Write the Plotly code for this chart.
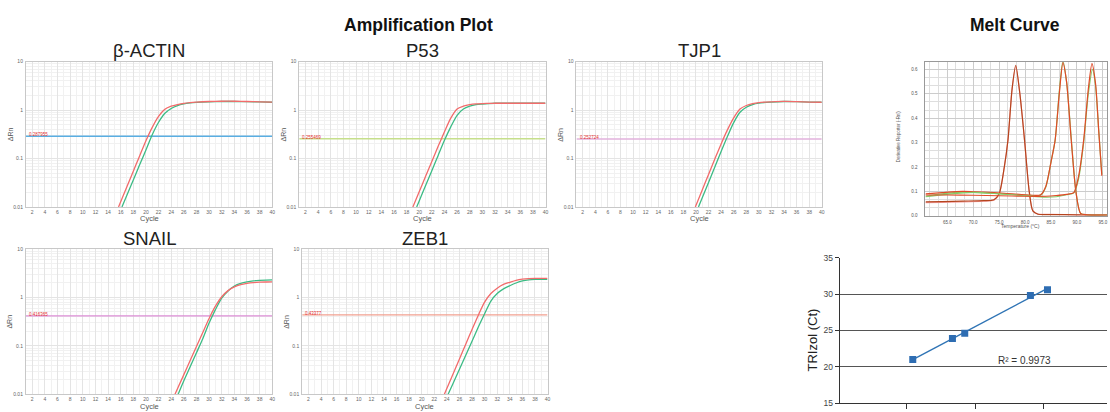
import plotly.graph_objects as go
import numpy as np

# ================= DATA =================
genes = ["β-ACTIN", "P53", "TJP1", "SNAIL", "ZEB1"]
threshold_values = [0.287955, 0.255469, 0.252724, 0.416365, 0.43377]
threshold_labels = ["0.287955", "0.255469", "0.252724", "0.416365", "0.43377"]

cycle_ticks = list(range(2, 41, 2))
drn_ticks = [0.01, 0.1, 1, 10]
drn_tick_labels = ["0.01", "0.1", "1", "10"]

# beta-actin
actin_red_cycle = [15.66, 17, 18, 19, 20, 21, 22, 23, 24, 25, 26, 27, 28, 30, 32, 34, 36, 38, 40]
actin_red_drn = [0.01, 0.0264, 0.0546, 0.113, 0.233, 0.44, 0.74, 1.04, 1.2, 1.3, 1.38, 1.43, 1.46, 1.5, 1.52, 1.52, 1.5, 1.48, 1.46]
actin_green_cycle = [16.2, 17, 18, 19, 20, 21, 22, 23, 24, 25, 26, 27, 28, 30, 32, 34, 36, 38, 40]
actin_green_drn = [0.01, 0.0177, 0.036, 0.074, 0.15, 0.31, 0.56, 0.86, 1.08, 1.24, 1.34, 1.4, 1.44, 1.48, 1.5, 1.5, 1.49, 1.47, 1.45]
# P53
p53_red_cycle = [19.0, 20, 21, 22, 23, 24, 25, 26, 27, 28, 29, 30, 31, 32, 34, 36, 38, 40]
p53_red_drn = [0.01, 0.0206, 0.0424, 0.087, 0.179, 0.355, 0.68, 1.05, 1.2, 1.29, 1.34, 1.36, 1.37, 1.38, 1.38, 1.38, 1.38, 1.38]
p53_green_cycle = [19.6, 20, 21, 22, 23, 24, 25, 26, 27, 28, 29, 30, 31, 32, 34, 36, 38, 40]
p53_green_drn = [0.01, 0.0133, 0.0274, 0.056, 0.116, 0.238, 0.45, 0.78, 1.05, 1.2, 1.29, 1.33, 1.36, 1.38, 1.38, 1.38, 1.38, 1.38]
# TJP1
tjp1_red_cycle = [19.9, 21, 22, 23, 24, 25, 26, 27, 28, 29, 30, 32, 34, 36, 38, 40]
tjp1_red_drn = [0.01, 0.0224, 0.047, 0.0975, 0.2, 0.39, 0.69, 1.05, 1.24, 1.36, 1.43, 1.48, 1.51, 1.49, 1.46, 1.45]
tjp1_green_cycle = [20.4, 21, 22, 23, 24, 25, 26, 27, 28, 29, 30, 32, 34, 36, 38, 40]
tjp1_green_drn = [0.01, 0.0155, 0.032, 0.067, 0.14, 0.285, 0.55, 0.9, 1.14, 1.3, 1.39, 1.46, 1.5, 1.49, 1.46, 1.45]
# SNAIL
snail_red_cycle = [24.6, 26, 27, 28, 29, 30, 31, 32, 33, 34, 35, 36, 37, 38, 39, 40]
snail_red_drn = [0.01, 0.0255, 0.0497, 0.097, 0.189, 0.368, 0.66, 1.03, 1.38, 1.65, 1.84, 1.95, 2.02, 2.06, 2.08, 2.09]
snail_green_cycle = [25.1, 26, 27, 28, 29, 30, 31, 32, 33, 34, 35, 36, 37, 38, 39, 40]
snail_green_drn = [0.01, 0.019, 0.037, 0.072, 0.14, 0.295, 0.56, 0.97, 1.36, 1.72, 1.95, 2.1, 2.2, 2.25, 2.28, 2.29]
# ZEB1
zeb1_red_cycle = [23.6, 25, 26, 27, 28, 29, 30, 31, 32, 33, 34, 35, 36, 37, 38, 40]
zeb1_red_drn = [0.01, 0.0267, 0.0537, 0.108, 0.218, 0.43, 0.8, 1.2, 1.55, 1.85, 2.05, 2.25, 2.38, 2.45, 2.47, 2.47]
zeb1_green_cycle = [24.2, 25, 26, 27, 28, 29, 30, 31, 32, 33, 34, 35, 36, 37, 38, 40]
zeb1_green_drn = [0.01, 0.017, 0.033, 0.064, 0.125, 0.244, 0.46, 0.84, 1.2, 1.5, 1.74, 1.98, 2.18, 2.3, 2.35, 2.36]

# Melt curve (temperature °C, derivative reporter)
melt_a_temp = [60.8, 64, 68, 72, 74, 75, 76, 76.7, 77.5, 78.2, 79, 79.9, 80.8, 81.5, 82.5, 85, 90, 95.8]
melt_a_val = [0.057, 0.058, 0.06, 0.062, 0.066, 0.09, 0.2, 0.31, 0.52, 0.617, 0.5, 0.31, 0.1, 0.02, 0.006, 0.005, 0.004, 0.003]
melt_b_temp = [60.8, 64, 68, 72, 74, 75, 76, 76.7, 77.5, 78.2, 79, 79.9, 80.8, 81.5, 82.5, 85, 90, 95.8]
melt_b_val = [0.054, 0.055, 0.057, 0.06, 0.064, 0.088, 0.2, 0.31, 0.52, 0.612, 0.5, 0.31, 0.1, 0.02, 0.007, 0.006, 0.004, 0.003]
melt_c_temp = [60.8, 64, 68, 72, 76, 80, 83, 84, 85, 85.8, 86.6, 87.3, 88, 88.9, 89.8, 90.7, 92, 95.8]
melt_c_val = [0.09, 0.095, 0.1, 0.097, 0.092, 0.086, 0.086, 0.12, 0.22, 0.31, 0.5, 0.628, 0.55, 0.31, 0.1, 0.01, 0.004, 0.003]
melt_d_temp = [60.8, 64, 68, 72, 76, 80, 83, 84, 85, 85.8, 86.6, 87.3, 88, 88.9, 89.8, 90.7, 92, 95.8]
melt_d_val = [0.08, 0.09, 0.097, 0.094, 0.09, 0.085, 0.084, 0.118, 0.22, 0.31, 0.51, 0.635, 0.55, 0.32, 0.1, 0.01, 0.004, 0.003]
melt_e_temp = [60.8, 65, 70, 75, 80, 84, 86, 88, 89.4, 90.3, 91.3, 92.2, 92.9, 93.6, 94.2, 94.8]
melt_e_val = [0.085, 0.085, 0.084, 0.082, 0.08, 0.08, 0.083, 0.088, 0.095, 0.16, 0.31, 0.52, 0.624, 0.54, 0.35, 0.164]
melt_f_temp = [60.8, 65, 70, 75, 80, 84, 86, 88, 89.4, 90.3, 91.3, 92.2, 93.0, 93.6, 94.2, 94.8]
melt_f_val = [0.078, 0.088, 0.096, 0.09, 0.082, 0.076, 0.078, 0.086, 0.094, 0.15, 0.3, 0.5, 0.6, 0.53, 0.35, 0.17]
melt_x_ticks = [65, 70, 75, 80, 85, 90, 95]
melt_y_ticks = [0.0, 0.1, 0.2, 0.3, 0.4, 0.5, 0.6]

# Standard curve
std_x = [1.09, 1.67, 1.85, 2.81, 3.06]
std_ct = [21.0, 23.9, 24.6, 29.8, 30.6]
std_r2_text = "R² = 0.9973"
std_y_ticks = [15, 20, 25, 30, 35]
std_x_ticks = [1, 2, 3]

# ================= LAYOUT / STYLE =================
W, H = 1110, 412
RED = "#f26b6b"
GREEN = "#3cbb85"
thr_colors = ["#5aaee2", "#c6df8c", "#e2b2dc", "#dc8ed6", "#f2a090"]
FONT = "Liberation Sans, Arial, sans-serif"


def px_x(p):
    return p / W


def px_y(p):
    return 1 - p / H


# panel boxes in pixels: (left, right, top, bottom)
amp_boxes = [(26, 273, 58, 207), (300, 547, 58, 207), (578, 824, 58, 207),
             (26, 273, 250, 399), (303, 549, 250, 399)]
amp_data = [
    (actin_red_cycle, actin_red_drn, actin_green_cycle, actin_green_drn),
    (p53_red_cycle, p53_red_drn, p53_green_cycle, p53_green_drn),
    (tjp1_red_cycle, tjp1_red_drn, tjp1_green_cycle, tjp1_green_drn),
    (snail_red_cycle, snail_red_drn, snail_green_cycle, snail_green_drn),
    (zeb1_red_cycle, zeb1_red_drn, zeb1_green_cycle, zeb1_green_drn),
]

fig = go.Figure()
layout = dict(width=W, height=H, margin=dict(l=0, r=0, t=0, b=0),
              paper_bgcolor="white", plot_bgcolor="white", showlegend=False,
              font=dict(family=FONT))
annotations = []

for i, (box, dat) in enumerate(zip(amp_boxes, amp_data)):
    n = i + 1
    sx = "" if n == 1 else str(n)
    l, r, t, b = box
    layout["xaxis" + sx] = dict(
        domain=[px_x(l), px_x(r)], range=[1, 40], anchor="y" + sx,
        tickvals=cycle_ticks, ticks="", tickfont=dict(size=5, color="#666"),
        showgrid=True, gridcolor="#e4e4e4", gridwidth=0.6,
        minor=dict(showgrid=True, dtick=1, gridcolor="#f1f1f1", gridwidth=0.5),
        showline=True, linecolor="#c8c8c8", linewidth=1, mirror=True,
        zeroline=False, ticklabelstandoff=0)
    layout["yaxis" + sx] = dict(
        domain=[px_y(b), px_y(t)], type="log", range=[-2, 1], anchor="x" + sx,
        tickvals=drn_ticks, ticktext=drn_tick_labels, ticks="",
        tickfont=dict(size=5, color="#666"),
        showgrid=True, gridcolor="#e4e4e4", gridwidth=0.6,
        minor=dict(showgrid=True, dtick="D1", gridcolor="#f1f1f1", gridwidth=0.5),
        showline=True, linecolor="#c8c8c8", linewidth=1, mirror=True,
        zeroline=False, ticklabelstandoff=1)
    xa, ya = "x" + sx, "y" + sx
    # threshold line
    fig.add_trace(go.Scatter(x=[1, 40], y=[threshold_values[i]] * 2, mode="lines",
                             line=dict(color=thr_colors[i], width=1.3),
                             xaxis=xa, yaxis=ya, hoverinfo="skip"))
    rc, rv, gc, gv = dat
    fig.add_trace(go.Scatter(x=gc, y=gv, mode="lines",
                             line=dict(color=GREEN, width=1.3, shape="spline", smoothing=0.8),
                             xaxis=xa, yaxis=ya))
    fig.add_trace(go.Scatter(x=rc, y=rv, mode="lines",
                             line=dict(color=RED, width=1.3, shape="spline", smoothing=0.8),
                             xaxis=xa, yaxis=ya))
    annotations.append(dict(x=1.2, y=np.log10(threshold_values[i]), xref=xa, yref=ya,
                            text=threshold_labels[i], showarrow=False,
                            xanchor="left", yanchor="middle", yshift=1.5,
                            font=dict(size=4.5, color="#e53030")))
    # gene title
    annotations.append(dict(x=px_x((l + r) / 2), y=px_y(t - 11), xref="paper", yref="paper",
                            text=genes[i], showarrow=False, xanchor="center", yanchor="middle",
                            font=dict(size=18.5, color="#222")))
    annotations.append(dict(x=px_x(l - 16), y=px_y((t + b) / 2), xref="paper", yref="paper",
                            text="ΔRn", showarrow=False, textangle=-90,
                            xanchor="center", yanchor="middle",
                            font=dict(size=7, color="#555")))
    annotations.append(dict(x=px_x((l + r) / 2), y=px_y(b + 12), xref="paper", yref="paper",
                            text="Cycle", showarrow=False, xanchor="center", yanchor="middle",
                            font=dict(size=7.5, color="#555")))

# ---------- Melt curve ----------
ml, mr, mt, mb = 928, 1110, 58, 216
layout["xaxis6"] = dict(domain=[px_x(ml), px_x(mr)], range=[60.8, 95.8], anchor="y6",
                        tickvals=melt_x_ticks, ticktext=[f"{v:.1f}" for v in melt_x_ticks],
                        ticks="", tickfont=dict(size=4.5, color="#555"),
                        showgrid=True, gridcolor="#cccccc", gridwidth=0.6,
                        minor=dict(showgrid=True, dtick=5 / 3, gridcolor="#dedede", gridwidth=0.5),
                        showline=True, linecolor="#999", linewidth=1, mirror=True,
                        zeroline=False, ticklabelstandoff=2)
layout["yaxis6"] = dict(domain=[px_y(mb), px_y(mt)], range=[0, 0.632], anchor="x6",
                        tickvals=melt_y_ticks, ticktext=[f"{v:.1f}" for v in melt_y_ticks],
                        ticks="", tickfont=dict(size=4.5, color="#555"),
                        showgrid=True, gridcolor="#cccccc", gridwidth=0.6,
                        minor=dict(showgrid=True, dtick=0.1 / 3, gridcolor="#dedede", gridwidth=0.5),
                        showline=True, linecolor="#999", linewidth=1, mirror=True,
                        zeroline=False, ticklabelstandoff=6)
melt_series = [(melt_b_temp, melt_b_val, "#f3a0a0"), (melt_a_temp, melt_a_val, "#b5441e"),
               (melt_d_temp, melt_d_val, "#86cc6a"), (melt_c_temp, melt_c_val, "#e04a28"),
               (melt_f_temp, melt_f_val, "#86cc6a"), (melt_e_temp, melt_e_val, "#e04a28")]
for tx, vy, col in melt_series:
    fig.add_trace(go.Scatter(x=tx, y=vy, mode="lines",
                             line=dict(color=col, width=1.2, shape="spline", smoothing=0.7),
                             xaxis="x6", yaxis="y6", cliponaxis=True))
annotations.append(dict(x=px_x((ml + mr) / 2 + 4), y=px_y(mb + 10), xref="paper", yref="paper",
                        text="Temperature (°C)", showarrow=False, xanchor="center", yanchor="middle",
                        font=dict(size=5, color="#555")))
annotations.append(dict(x=px_x(ml - 27), y=px_y((mt + mb) / 2 - 2), xref="paper", yref="paper",
                        text="Derivative Reporter (-Rn')", showarrow=False, textangle=-90,
                        xanchor="center", yanchor="middle", font=dict(size=4.5, color="#555")))

# ---------- Standard curve ----------
sl, sr, st, sb = 842, 1110, 259, 408
layout["xaxis7"] = dict(domain=[px_x(sl), px_x(sr)], range=[0.022, 3.93], anchor="y7",
                        tickvals=std_x_ticks, showticklabels=False, ticks="outside",
                        ticklen=5, tickcolor="#333", showgrid=False,
                        showline=True, linecolor="#333", linewidth=1, zeroline=False)
layout["yaxis7"] = dict(domain=[px_y(sb), px_y(st)], range=[15, 35], anchor="x7",
                        tickvals=std_y_ticks, ticks="outside", ticklen=4, tickcolor="#333",
                        tickfont=dict(size=8.5, color="#444"),
                        showgrid=True, gridcolor="#555", gridwidth=1,
                        showline=True, linecolor="#333", linewidth=1, zeroline=False)
coef = np.polyfit(std_x, std_ct, 1)
fit_x = [min(std_x), max(std_x)]
fig.add_trace(go.Scatter(x=fit_x, y=list(np.polyval(coef, fit_x)), mode="lines",
                         line=dict(color="#2f74b5", width=1.4), xaxis="x7", yaxis="y7"))
fig.add_trace(go.Scatter(x=std_x, y=std_ct, mode="markers",
                         marker=dict(symbol="square", size=7, color="#2e6db2"),
                         xaxis="x7", yaxis="y7"))
annotations.append(dict(x=px_x(1027), y=px_y(364), xref="paper", yref="paper",
                        text=std_r2_text, showarrow=False, xanchor="center", yanchor="middle",
                        font=dict(size=10, color="#333")))
annotations.append(dict(x=px_x(815), y=px_y(343), xref="paper", yref="paper",
                        text="TRIzol (Ct)", showarrow=False, textangle=-90,
                        xanchor="center", yanchor="middle", font=dict(size=13, color="#222")))

# ---------- Section titles ----------
annotations.append(dict(x=px_x(420), y=px_y(21), xref="paper", yref="paper",
                        text="<b>Amplification Plot</b>", showarrow=False,
                        xanchor="center", yanchor="middle",
                        font=dict(size=17.5, color="#111")))
annotations.append(dict(x=px_x(1018), y=px_y(21), xref="paper", yref="paper",
                        text="<b>Melt Curve</b>", showarrow=False,
                        xanchor="center", yanchor="middle",
                        font=dict(size=17.5, color="#111")))

layout["annotations"] = annotations
fig.update_layout(**layout)
fig.write_html("out.html", config={"displayModeBar": False},
               post_script="document.body.style.margin='0';document.body.style.padding='0';")
